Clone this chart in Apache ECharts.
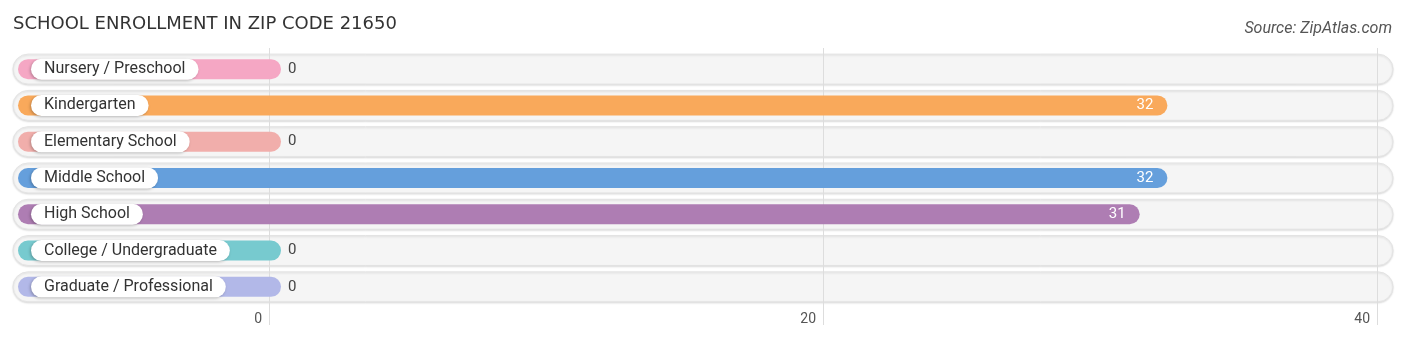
<!DOCTYPE html>
<html>
<head>
<meta charset="utf-8">
<script src="https://cdn.jsdelivr.net/npm/echarts@6/dist/echarts.min.js"></script>
<style>
html,body{margin:0;padding:0;background:#fff;}
#chart{width:1406px;height:341px;}
</style>
</head>
<body>
<div id="chart"></div>
<script>
const categories = ['Nursery / Preschool','Kindergarten','Elementary School','Middle School','High School','College / Undergraduate','Graduate / Professional'];
const enrollment = [0, 32, 0, 32, 31, 0, 0];
const axisMin = 0, axisMax = 40, axisStep = 20;
const palette = ['#F5A7C4','#F9A95B','#F1AEAB','#659FDC','#AE7DB3','#77CACF','#B2B8E8'];
const titleText = 'SCHOOL ENROLLMENT IN ZIP CODE 21650';
const sourceText = 'Source: ZipAtlas.com';

const FONT = 'Roboto, "Noto Sans", sans-serif';
const chart = echarts.init(document.getElementById('chart'), null, {renderer:'canvas'});
const seriesData = categories.map((c, i) => [enrollment[i], i]);

chart.setOption({
  animation: false,
  title: [
    {text: titleText, left: 8, top: 10, textStyle: {fontFamily: '"DejaVu Sans", sans-serif', fontSize: 18, fontWeight: 'normal', color: '#333'}},
    {text: sourceText, right: 9, top: 16, textStyle: {fontFamily: FONT, fontSize: 16, fontStyle: 'italic', fontWeight: 'normal', color: '#555'}}
  ],
  grid: [
    {left: 269, right: 29, top: 48, bottom: 16},
    {left: 269, right: 29, top: 51, bottom: 36}
  ],
  xAxis: [
    {gridIndex: 0, type: 'value', min: axisMin, max: axisMax, interval: axisStep,
     axisLine: {show: false}, axisTick: {show: false},
     splitLine: {show: true, lineStyle: {color: '#dddddd', width: 1}},
     axisLabel: {inside: true, margin: -1, align: 'right', padding: [0, 7, 0, 0], color: '#555', fontSize: 14, fontFamily: FONT}},
    {gridIndex: 1, type: 'value', min: axisMin, max: axisMax, show: false}
  ],
  yAxis: [
    {gridIndex: 0, type: 'value', show: false},
    {gridIndex: 1, type: 'category', data: categories, inverse: true, show: false}
  ],
  series: [
    {
      type: 'custom', xAxisIndex: 1, yAxisIndex: 1, z: -1, silent: true,
      data: seriesData,
      renderItem: function (params, api) {
        const cy = api.coord([0, api.value(1)])[1];
        const cs = params.coordSys;
        const left = cs.x - 256, right = cs.x + cs.width + 16;
        return {
          type: 'rect',
          shape: {x: left, y: cy - 15, width: right - left, height: 30, r: 15},
          style: {fill: '#f5f5f5', stroke: '#e3e3e3', lineWidth: 1, shadowColor: 'rgba(0,0,0,0.12)', shadowBlur: 2, shadowOffsetY: 1}
        };
      }
    },
    {
      type: 'custom', xAxisIndex: 1, yAxisIndex: 1, z: 3,
      data: seriesData,
      renderItem: function (params, api) {
        const v = api.value(0);
        const idx = api.value(1);
        const pt = api.coord([v, idx]);
        const xv = pt[0], cy = pt[1];
        const cs = params.coordSys;
        const barStart = cs.x - 251;
        const barEnd = xv + 12;
        const children = [
          {type: 'rect', shape: {x: barStart, y: cy - 10, width: barEnd - barStart, height: 20, r: 10},
           style: {fill: palette[idx % palette.length]}},
          {type: 'text', x: barStart + 13, y: cy,
           style: {text: categories[idx], fontFamily: FONT, fontSize: 16, fill: '#333', verticalAlign: 'middle', align: 'left',
                   backgroundColor: '#fff', borderRadius: 11, padding: [3, 13, 2, 13],
                   shadowColor: 'rgba(0,0,0,0.25)', shadowBlur: 3, shadowOffsetX: -1, shadowOffsetY: 1}}
        ];
        if (v > 2) {
          children.push({type: 'text', x: xv - 2, y: cy,
            style: {text: String(v), fontFamily: FONT, fontSize: 15, fill: '#fff', align: 'right', verticalAlign: 'middle'}});
        } else {
          children.push({type: 'text', x: xv + 19, y: cy,
            style: {text: String(v), fontFamily: FONT, fontSize: 15, fill: '#444', align: 'left', verticalAlign: 'middle'}});
        }
        return {type: 'group', children: children};
      }
    }
  ]
});
</script>
</body>
</html>
